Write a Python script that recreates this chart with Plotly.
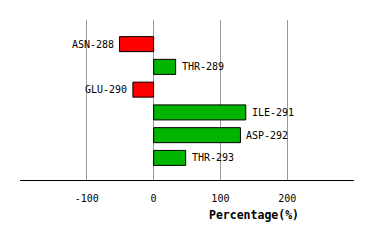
import plotly.graph_objects as go

residues = ["ASN-288", "THR-289", "GLU-290", "ILE-291", "ASP-292", "THR-293"]
values = [-51, 33, -31, 138, 130, 48]
tick_vals = [-100, 0, 100, 200]
tick_text = ["-100", "0", "100", "200"]

colors = ["#ff0000" if v < 0 else "#00b400" for v in values]
ypos = list(range(len(residues)))

fig = go.Figure()
fig.add_trace(go.Bar(
    x=values, y=ypos, orientation="h",
    marker=dict(color=colors, line=dict(color="black", width=1)),
    width=0.66, hoverinfo="skip",
))

font = dict(family="DejaVu Sans Mono", size=10, color="black")
for v, y, name in zip(values, ypos, residues):
    fig.add_annotation(
        x=v, y=y, xref="x", yref="y", text=name, showarrow=False,
        xanchor="left" if v >= 0 else "right",
        xshift=4 if v >= 0 else -4, font=font,
    )

fig.add_annotation(
    x=150, y=-0.22, xref="x", yref="paper", text="<b>Percentage(%)</b>",
    showarrow=False, font=dict(family="DejaVu Sans Mono", size=11.5, color="black"),
    xanchor="center", yanchor="middle",
)

fig.update_layout(
    width=374, height=240,
    margin=dict(l=20, r=20, t=20, b=60),
    paper_bgcolor="white", plot_bgcolor="white",
    showlegend=False,
    xaxis=dict(
        range=[-200, 300], tickvals=tick_vals, ticktext=tick_text,
        showgrid=True, gridcolor="#999999", gridwidth=1, zeroline=False,
        showline=True, linecolor="black", linewidth=1,
        ticks="outside", ticklen=9, tickcolor="rgba(0,0,0,0)",
        tickfont=font, fixedrange=True,
    ),
    yaxis=dict(
        range=[5.97, -1.06], showgrid=False, zeroline=False,
        showticklabels=False, showline=False, fixedrange=True,
    ),
)

fig.write_html("out.html")
